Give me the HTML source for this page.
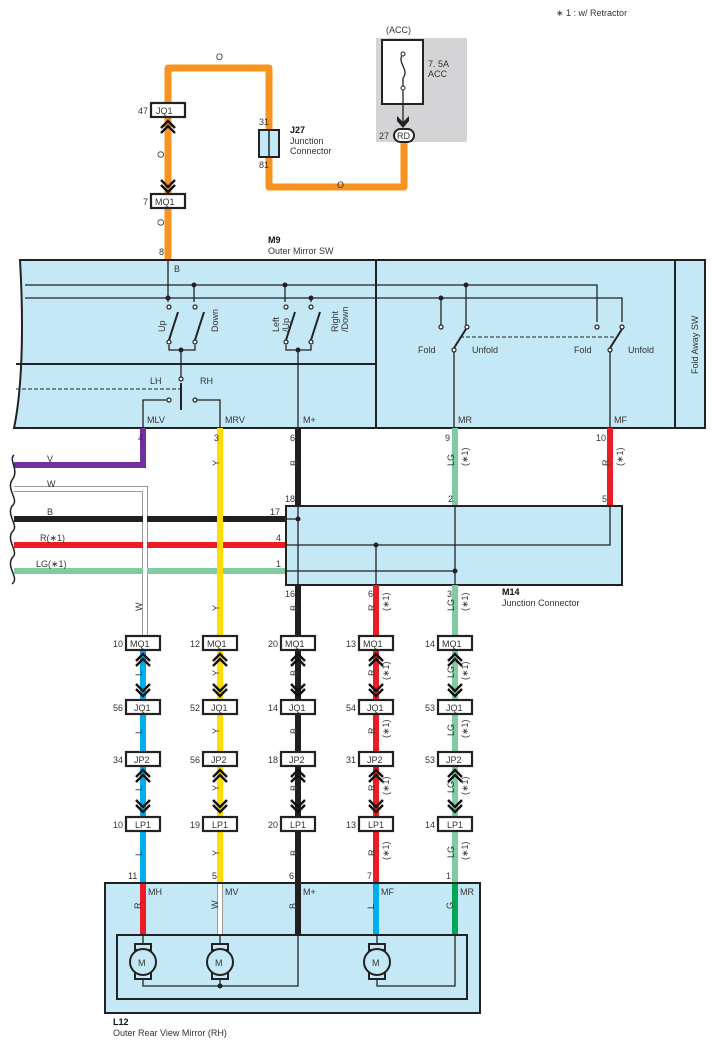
<!DOCTYPE html>
<html><head><meta charset="utf-8"><style>
html,body{margin:0;padding:0;background:#fff}
svg{display:block}
text{font-family:"Liberation Sans",sans-serif;font-size:9px;fill:#333}
.b{font-weight:bold;fill:#111}
.k{stroke:#222;fill:none;stroke-width:1.3}
.bx{fill:#fff;stroke:#222;stroke-width:2.2}
.ch{fill:none;stroke:#111;stroke-width:2.4}
</style></head><body>
<svg width="725" height="1046" viewBox="0 0 725 1046" xmlns="http://www.w3.org/2000/svg">
<text x="556" y="16">∗ 1 : w/ Retractor</text>
<!-- fuse -->
<rect x="376" y="38" width="91" height="104" fill="#d4d4d6"/>
<text x="386" y="33">(ACC)</text>
<rect x="382" y="40" width="41" height="64" fill="#fff" stroke="#222" stroke-width="2"/>
<path d="M403 54 C396 62,410 70,403 78" class="k"/>
<circle cx="403" cy="54" r="2" fill="#fff" stroke="#222"/><circle cx="403" cy="88" r="2" fill="#fff" stroke="#222"/>
<path d="M403 78 L403 86" class="k"/>
<line x1="403" y1="90" x2="403" y2="124" class="k"/>
<path d="M397 121 L403 128 L409 121 L409 116 L403 122 L397 116Z" fill="#222"/>
<text x="428" y="67">7. 5A</text><text x="428" y="77">ACC</text>
<!-- orange -->
<path d="M168 260 V68 H269 V187 H404 V136" fill="none" stroke="#f7931e" stroke-width="7" stroke-linejoin="round"/>
<rect x="394" y="129" width="20" height="13" rx="6.5" fill="#fff" stroke="#222" stroke-width="2"/>
<text x="397" y="139">RD</text><text x="379" y="139">27</text>
<rect x="259" y="130" width="20" height="27" fill="#c5e8f7" stroke="#222" stroke-width="2"/>
<line x1="269" y1="130" x2="269" y2="157" stroke="#222" stroke-width="1.5"/>
<text x="259" y="125">31</text><text x="259" y="168">81</text>
<text x="290" y="133" class="b">J27</text><text x="290" y="144">Junction</text><text x="290" y="154">Connector</text>
<text x="216" y="60">O</text><text x="337" y="188">O</text>
<text x="160" y="162" transform="rotate(-90 160 158)">O</text>
<text x="160" y="230" transform="rotate(-90 160 226)">O</text>
<rect x="151" y="103" width="34" height="14" class="bx"/><text x="156" y="114">JQ1</text><text x="138" y="114">47</text>
<rect x="151" y="194" width="34" height="14" class="bx"/><text x="155" y="205">MQ1</text><text x="143" y="205">7</text>
<path d="M161 128 L168 121 L175 128 M161 133 L168 126 L175 133" class="ch"/>
<path d="M161 180 L168 187 L175 180 M161 185 L168 192 L175 185" class="ch"/>
<text x="159" y="255">8</text>
<text x="268" y="243" class="b">M9</text><text x="268" y="254">Outer Mirror SW</text>
<!-- M9 box -->
<path d="M20 260 H705 V428 H14 C22 390,24 330,20 260Z" fill="#c5e8f7" stroke="#222" stroke-width="2"/>
<line x1="376" y1="260" x2="376" y2="428" stroke="#222" stroke-width="2"/>
<line x1="675" y1="260" x2="675" y2="428" stroke="#222" stroke-width="2"/>
<line x1="16" y1="364" x2="376" y2="364" stroke="#222" stroke-width="2"/>
<text x="698" y="374" transform="rotate(-90 698 374)">Fold Away SW</text>
<path d="M25 285 H597 V322 M25 298 H622 V322" class="k"/>
<path d="M168 260 V302 M194 285 V302 M285 285 V302 M311 298 V302" class="k"/>
<g fill="#222"><circle cx="168" cy="298" r="2.5"/><circle cx="194" cy="285" r="2.5"/><circle cx="285" cy="285" r="2.5"/><circle cx="311" cy="298" r="2.5"/><circle cx="181" cy="350" r="2.5"/><circle cx="298" cy="350" r="2.5"/><circle cx="466" cy="285" r="2.5"/><circle cx="441" cy="298" r="2.5"/></g>
<text x="174" y="272">B</text>
<path d="M169 345 V350 H195 V345 M181 350 V377 M286 345 V350 H311 V345 M298 350 V428" class="k"/>
<path d="M169 340 L178 312 M195 340 L204 312 M286 340 L295 312 M311 340 L320 312" stroke="#222" stroke-width="2"/>
<path d="M181 383 V410" stroke="#222" stroke-width="2"/>
<path d="M167 400 H143 V428 M195 400 H220 V428" class="k"/>
<path d="M16 389 H181" stroke="#222" stroke-dasharray="4 2" stroke-width="1"/>
<g fill="#fff" stroke="#222" stroke-width="1.2"><circle cx="169" cy="307" r="2"/><circle cx="195" cy="307" r="2"/><circle cx="169" cy="342" r="2"/><circle cx="195" cy="342" r="2"/><circle cx="286" cy="307" r="2"/><circle cx="311" cy="307" r="2"/><circle cx="286" cy="342" r="2"/><circle cx="311" cy="342" r="2"/><circle cx="181" cy="379" r="2"/><circle cx="169" cy="400" r="2"/><circle cx="195" cy="400" r="2"/>
<circle cx="441" cy="327" r="2"/><circle cx="467" cy="327" r="2"/><circle cx="454" cy="350" r="2"/><circle cx="597" cy="327" r="2"/><circle cx="622" cy="327" r="2"/><circle cx="610" cy="350" r="2"/></g>
<text x="161" y="336" transform="rotate(-90 161 332)">Up</text>
<text x="212" y="346" transform="rotate(-90 208 336)">Down</text>
<text x="271" y="340" transform="rotate(-90 271 332)">Left</text><text x="281" y="340" transform="rotate(-90 281 332)">/Up</text>
<text x="324" y="346" transform="rotate(-90 324 332)">Right</text><text x="334" y="346" transform="rotate(-90 334 332)">/Down</text>
<text x="150" y="384">LH</text><text x="200" y="384">RH</text>
<text x="147" y="423">MLV</text><text x="225" y="423">MRV</text><text x="303" y="423">M+</text>
<path d="M441 298 V325 M466 285 V325 M454 352 V428 M610 352 V428" class="k"/>
<path d="M454 348 L466 329 M610 348 L622 329" stroke="#222" stroke-width="2"/>
<path d="M460 337 H614" stroke="#222" stroke-dasharray="4 2"/>
<text x="418" y="353">Fold</text><text x="472" y="353">Unfold</text>
<text x="574" y="353">Fold</text><text x="628" y="353">Unfold</text>
<text x="458" y="423">MR</text><text x="614" y="423">MF</text>
<!-- left wires -->
<path d="M14 465 H143 V428" fill="none" stroke="#7030a0" stroke-width="6"/>
<path d="M14 489 H145 V636" fill="none" stroke="#999" stroke-width="6"/>
<path d="M14 489 H145 V636" fill="none" stroke="#fff" stroke-width="4"/>
<line x1="14" y1="519" x2="286" y2="519" stroke="#231f20" stroke-width="6"/>
<line x1="14" y1="545" x2="286" y2="545" stroke="#ed1c24" stroke-width="6"/>
<line x1="14" y1="571" x2="286" y2="571" stroke="#80cba0" stroke-width="6"/>
<line x1="145" y1="512" x2="145" y2="578" stroke="#fff" stroke-width="4"/>
<line x1="220" y1="428" x2="220" y2="636" stroke="#ffdd00" stroke-width="6"/>
<line x1="298" y1="428" x2="298" y2="636" stroke="#231f20" stroke-width="6"/>
<line x1="455" y1="428" x2="455" y2="506" stroke="#80cba0" stroke-width="6"/>
<line x1="610" y1="428" x2="610" y2="506" stroke="#ed1c24" stroke-width="6"/>
<path d="M14 455 C8 460,20 470,12 480 C6 490,20 500,12 506 C6 516,20 526,12 532 C6 542,20 552,12 558 C6 568,20 578,12 584" fill="none" stroke="#222" stroke-width="1.5"/>
<text x="47" y="462">V</text><text x="47" y="487">W</text><text x="47" y="515">B</text><text x="40" y="541">R(∗1)</text><text x="36" y="567">LG(∗1)</text>
<text x="138" y="441">4</text><text x="214" y="441">3</text><text x="290" y="441">6</text><text x="445" y="441">9</text><text x="596" y="441">10</text>
<!-- M14 -->
<rect x="286" y="506" width="336" height="79" fill="#c5e8f7" stroke="#222" stroke-width="2"/>
<path d="M286 519 H298 M298 506 V585 M286 545 H610 V506 M286 571 H455 M376 545 V585 M455 506 V585" class="k"/>
<g fill="#222"><circle cx="298" cy="519" r="2.5"/><circle cx="376" cy="545" r="2.5"/><circle cx="455" cy="571" r="2.5"/></g>
<text x="285" y="502">18</text><text x="270" y="515">17</text><text x="276" y="541">4</text><text x="276" y="567">1</text>
<text x="448" y="502">2</text><text x="602" y="502">5</text>
<text x="285" y="597">16</text><text x="368" y="597">6</text><text x="447" y="597">3</text>
<text x="502" y="595" class="b">M14</text><text x="502" y="606">Junction Connector</text>
<line x1="376" y1="585" x2="376" y2="636" stroke="#ed1c24" stroke-width="6"/>
<line x1="455" y1="585" x2="455" y2="636" stroke="#80cba0" stroke-width="6"/>
<!-- lower wire runs -->
<g stroke-width="6">
<line x1="143" y1="650" x2="143" y2="882" stroke="#00aeef"/>
<line x1="220" y1="650" x2="220" y2="882" stroke="#ffdd00"/>
<line x1="298" y1="650" x2="298" y2="882" stroke="#231f20"/>
<line x1="376" y1="650" x2="376" y2="882" stroke="#ed1c24"/>
<line x1="455" y1="650" x2="455" y2="882" stroke="#80cba0"/>
</g>
<!-- rotated wire labels -->
<g>
<text x="138" y="615" transform="rotate(-90 138 611)">W</text>
<text x="215" y="615" transform="rotate(-90 215 611)">Y</text><text x="215" y="470" transform="rotate(-90 215 466)">Y</text>
<text x="293" y="615" transform="rotate(-90 293 611)">B</text><text x="293" y="470" transform="rotate(-90 293 466)">B</text>
<text x="371" y="615" transform="rotate(-90 371 611)">R</text><text x="385" y="615" transform="rotate(-90 385 611)">(∗1)</text>
<text x="450" y="615" transform="rotate(-90 450 611)">LG</text><text x="464" y="615" transform="rotate(-90 464 611)">(∗1)</text>
<text x="450" y="470" transform="rotate(-90 450 466)">LG</text><text x="464" y="470" transform="rotate(-90 464 466)">(∗1)</text>
<text x="605" y="470" transform="rotate(-90 605 466)">R</text><text x="619" y="470" transform="rotate(-90 619 466)">(∗1)</text>
</g>
<!-- per-row labels -->
<text x="138" y="680" transform="rotate(-90 138 676)">L</text><text x="138" y="738" transform="rotate(-90 138 734)">L</text><text x="138" y="795" transform="rotate(-90 138 791)">L</text><text x="138" y="860" transform="rotate(-90 138 856)">L</text>
<text x="215" y="680" transform="rotate(-90 215 676)">Y</text><text x="215" y="738" transform="rotate(-90 215 734)">Y</text><text x="215" y="795" transform="rotate(-90 215 791)">Y</text><text x="215" y="860" transform="rotate(-90 215 856)">Y</text>
<text x="293" y="680" transform="rotate(-90 293 676)">B</text><text x="293" y="738" transform="rotate(-90 293 734)">B</text><text x="293" y="795" transform="rotate(-90 293 791)">B</text><text x="293" y="860" transform="rotate(-90 293 856)">B</text>
<text x="371" y="680" transform="rotate(-90 371 676)">R</text><text x="371" y="738" transform="rotate(-90 371 734)">R</text><text x="371" y="795" transform="rotate(-90 371 791)">R</text><text x="371" y="860" transform="rotate(-90 371 856)">R</text>
<text x="385" y="684" transform="rotate(-90 385 680)">(∗1)</text><text x="385" y="742" transform="rotate(-90 385 738)">(∗1)</text><text x="385" y="799" transform="rotate(-90 385 795)">(∗1)</text><text x="385" y="864" transform="rotate(-90 385 860)">(∗1)</text>
<text x="450" y="682" transform="rotate(-90 450 678)">LG</text><text x="450" y="740" transform="rotate(-90 450 736)">LG</text><text x="450" y="797" transform="rotate(-90 450 793)">LG</text><text x="450" y="862" transform="rotate(-90 450 858)">LG</text>
<text x="464" y="684" transform="rotate(-90 464 680)">(∗1)</text><text x="464" y="742" transform="rotate(-90 464 738)">(∗1)</text><text x="464" y="799" transform="rotate(-90 464 795)">(∗1)</text><text x="464" y="864" transform="rotate(-90 464 860)">(∗1)</text>
<!-- connector boxes -->
<g>
<rect x="126" y="636" width="34" height="14" class="bx"/><text x="130" y="647">MQ1</text><text x="113" y="647">10</text>
<rect x="203" y="636" width="34" height="14" class="bx"/><text x="207" y="647">MQ1</text><text x="190" y="647">12</text>
<rect x="281" y="636" width="34" height="14" class="bx"/><text x="285" y="647">MQ1</text><text x="268" y="647">20</text>
<rect x="359" y="636" width="34" height="14" class="bx"/><text x="363" y="647">MQ1</text><text x="346" y="647">13</text>
<rect x="438" y="636" width="34" height="14" class="bx"/><text x="442" y="647">MQ1</text><text x="425" y="647">14</text>
<rect x="126" y="700" width="34" height="14" class="bx"/><text x="134" y="711">JQ1</text><text x="113" y="711">56</text>
<rect x="203" y="700" width="34" height="14" class="bx"/><text x="211" y="711">JQ1</text><text x="190" y="711">52</text>
<rect x="281" y="700" width="34" height="14" class="bx"/><text x="289" y="711">JQ1</text><text x="268" y="711">14</text>
<rect x="359" y="700" width="34" height="14" class="bx"/><text x="367" y="711">JQ1</text><text x="346" y="711">54</text>
<rect x="438" y="700" width="34" height="14" class="bx"/><text x="446" y="711">JQ1</text><text x="425" y="711">53</text>
<rect x="126" y="752" width="34" height="14" class="bx"/><text x="134" y="763">JP2</text><text x="113" y="763">34</text>
<rect x="203" y="752" width="34" height="14" class="bx"/><text x="211" y="763">JP2</text><text x="190" y="763">56</text>
<rect x="281" y="752" width="34" height="14" class="bx"/><text x="289" y="763">JP2</text><text x="268" y="763">18</text>
<rect x="359" y="752" width="34" height="14" class="bx"/><text x="367" y="763">JP2</text><text x="346" y="763">31</text>
<rect x="438" y="752" width="34" height="14" class="bx"/><text x="446" y="763">JP2</text><text x="425" y="763">53</text>
<rect x="126" y="817" width="34" height="14" class="bx"/><text x="135" y="828">LP1</text><text x="113" y="828">10</text>
<rect x="203" y="817" width="34" height="14" class="bx"/><text x="212" y="828">LP1</text><text x="190" y="828">19</text>
<rect x="281" y="817" width="34" height="14" class="bx"/><text x="290" y="828">LP1</text><text x="268" y="828">20</text>
<rect x="359" y="817" width="34" height="14" class="bx"/><text x="368" y="828">LP1</text><text x="346" y="828">13</text>
<rect x="438" y="817" width="34" height="14" class="bx"/><text x="447" y="828">LP1</text><text x="425" y="828">14</text>
</g>
<!-- chevrons -->
<g class="ch">
<path d="M136 661 L143 654 L150 661 M136 666 L143 659 L150 666 M136 684 L143 691 L150 684 M136 689 L143 696 L150 689 M136 777 L143 770 L150 777 M136 782 L143 775 L150 782 M136 800 L143 807 L150 800 M136 805 L143 812 L150 805"/>
<path d="M213 661 L220 654 L227 661 M213 666 L220 659 L227 666 M213 684 L220 691 L227 684 M213 689 L220 696 L227 689 M213 777 L220 770 L227 777 M213 782 L220 775 L227 782 M213 800 L220 807 L227 800 M213 805 L220 812 L227 805"/>
<path d="M291 661 L298 654 L305 661 M291 666 L298 659 L305 666 M291 684 L298 691 L305 684 M291 689 L298 696 L305 689 M291 777 L298 770 L305 777 M291 782 L298 775 L305 782 M291 800 L298 807 L305 800 M291 805 L298 812 L305 805"/>
<path d="M369 661 L376 654 L383 661 M369 666 L376 659 L383 666 M369 684 L376 691 L383 684 M369 689 L376 696 L383 689 M369 777 L376 770 L383 777 M369 782 L376 775 L383 782 M369 800 L376 807 L383 800 M369 805 L376 812 L383 805"/>
<path d="M448 661 L455 654 L462 661 M448 666 L455 659 L462 666 M448 684 L455 691 L462 684 M448 689 L455 696 L462 689 M448 777 L455 770 L462 777 M448 782 L455 775 L462 782 M448 800 L455 807 L462 800 M448 805 L455 812 L462 805"/>
</g>
<text x="128" y="879">11</text><text x="212" y="879">5</text><text x="289" y="879">6</text><text x="367" y="879">7</text><text x="446" y="879">1</text>
<!-- L12 -->
<rect x="105" y="883" width="375" height="130" fill="#c5e8f7" stroke="#222" stroke-width="2"/>
<rect x="117" y="935" width="350" height="64" fill="none" stroke="#222" stroke-width="2"/>
<g stroke-width="6">
<line x1="143" y1="884" x2="143" y2="934" stroke="#ed1c24"/>
<line x1="220" y1="884" x2="220" y2="934" stroke="#999"/>
<line x1="298" y1="884" x2="298" y2="934" stroke="#231f20"/>
<line x1="376" y1="884" x2="376" y2="934" stroke="#00aeef"/>
<line x1="455" y1="884" x2="455" y2="934" stroke="#00a651"/>
</g>
<line x1="220" y1="884" x2="220" y2="934" stroke="#fff" stroke-width="4"/>
<text x="148" y="895">MH</text><text x="225" y="895">MV</text><text x="303" y="895">M+</text><text x="381" y="895">MF</text><text x="460" y="895">MR</text>
<text x="137" y="913" transform="rotate(-90 137 909)">R</text><text x="214" y="913" transform="rotate(-90 214 909)">W</text><text x="292" y="913" transform="rotate(-90 292 909)">B</text><text x="370" y="913" transform="rotate(-90 370 909)">L</text><text x="449" y="913" transform="rotate(-90 449 909)">G</text>
<path d="M143 935 V944 M143 979 V986 H298 V935 M220 935 V944 M220 979 V986 M377 935 V944 M377 979 V986 H455 V935" class="k"/>
<circle cx="220" cy="986" r="2.5" fill="#222"/>
<g fill="#c5e8f7" stroke="#222" stroke-width="2">
<rect x="135" y="944" width="16" height="6"/><rect x="135" y="973" width="16" height="6"/><circle cx="143" cy="962" r="13"/>
<rect x="212" y="944" width="16" height="6"/><rect x="212" y="973" width="16" height="6"/><circle cx="220" cy="962" r="13"/>
<rect x="369" y="944" width="16" height="6"/><rect x="369" y="973" width="16" height="6"/><circle cx="377" cy="962" r="13"/>
</g>
<text x="138" y="966">M</text><text x="215" y="966">M</text><text x="372" y="966">M</text>
<text x="113" y="1025" class="b">L12</text><text x="113" y="1036">Outer Rear View Mirror (RH)</text>
</svg>
</body></html>
